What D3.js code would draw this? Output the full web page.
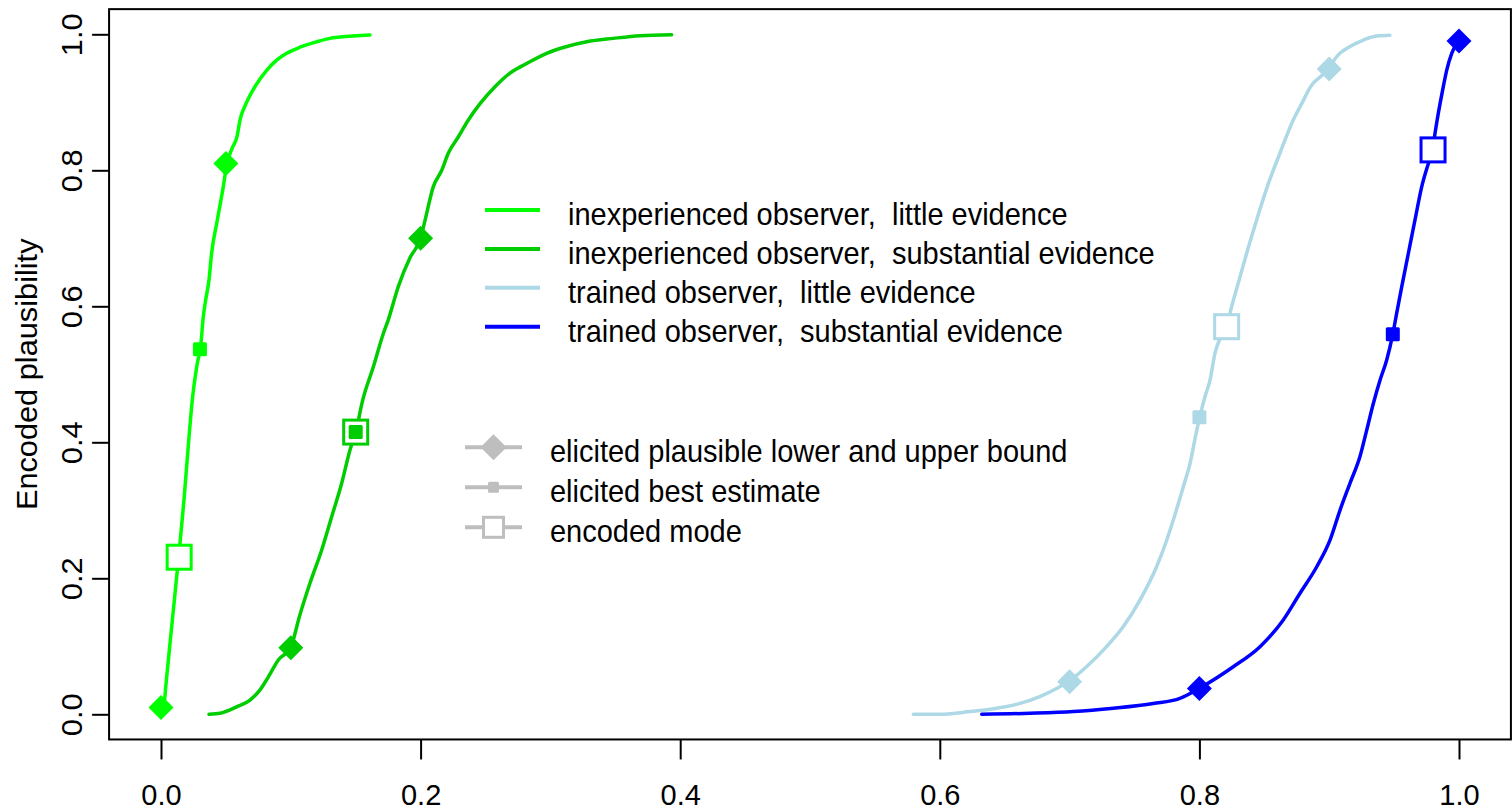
<!DOCTYPE html>
<html>
<head>
<meta charset="utf-8">
<script src="https://cdn.jsdelivr.net/npm/d3@7"></script>
<style>
  html, body { margin: 0; padding: 0; background: #ffffff; }
  svg { display: block; font-family: "Liberation Sans", Arial, Helvetica, sans-serif; }
  text { white-space: pre; }
</style>
</head>
<body>
<svg id="chart" width="1512" height="811"></svg>
<script>
// Encoded plausibility curves (cumulative) for four observer / evidence conditions.

// inexperienced observer, little evidence
const inexpLittleX = [0.000, 0.002, 0.0039, 0.0077, 0.0103, 0.0146, 0.0177, 0.0218, 0.0241, 0.0275, 0.0308, 0.0326, 0.0344, 0.037, 0.039, 0.0434, 0.048, 0.0506, 0.0547, 0.0586, 0.0609, 0.0655, 0.0724, 0.0814, 0.0891, 0.0968, 0.107, 0.120, 0.130, 0.138, 0.161];
const inexpLittleY = [0.000, 0.009, 0.045, 0.119, 0.168, 0.251, 0.315, 0.413, 0.462, 0.511, 0.546, 0.585, 0.609, 0.639, 0.678, 0.727, 0.776, 0.808, 0.832, 0.850, 0.874, 0.898, 0.923, 0.947, 0.962, 0.972, 0.981, 0.989, 0.994, 0.996, 0.999];

// inexperienced observer, substantial evidence
const inexpSubstX = [0.037, 0.0455, 0.0583, 0.0686, 0.0763, 0.0827, 0.0904, 0.0999, 0.1066, 0.1148, 0.1238, 0.1315, 0.1392, 0.1456, 0.150, 0.1554, 0.1636, 0.1713, 0.1751, 0.1828, 0.192, 0.200, 0.2035, 0.2098, 0.2163, 0.2213, 0.229, 0.2368, 0.2458, 0.2573, 0.2689, 0.2817, 0.2971, 0.3126, 0.328, 0.3485, 0.369, 0.3934];
const inexpSubstY = [0.000, 0.0015, 0.011, 0.021, 0.036, 0.055, 0.080, 0.098, 0.1435, 0.193, 0.2416, 0.2906, 0.3397, 0.3887, 0.415, 0.462, 0.511, 0.560, 0.580, 0.629, 0.672, 0.700, 0.727, 0.776, 0.800, 0.825, 0.849, 0.874, 0.898, 0.923, 0.943, 0.957, 0.972, 0.982, 0.989, 0.994, 0.998, 0.9995];

// trained observer, little evidence
const trainedLittleX = [0.5796, 0.601, 0.6233, 0.6438, 0.6618, 0.677, 0.690, 0.699, 0.713, 0.7285, 0.7414, 0.7542, 0.767, 0.7748, 0.7799, 0.7876, 0.7928, 0.798, 0.8043, 0.8082, 0.812, 0.8164, 0.8213, 0.8236, 0.8292, 0.8364, 0.8441, 0.8523, 0.862, 0.8723, 0.8788, 0.8857, 0.8993, 0.9057, 0.916, 0.9263, 0.9365, 0.9468];
const trainedLittleY = [0.000, 0.000, 0.004, 0.009, 0.016, 0.026, 0.038, 0.048, 0.070, 0.0995, 0.129, 0.168, 0.217, 0.256, 0.2857, 0.3347, 0.369, 0.418, 0.467, 0.4916, 0.531, 0.555, 0.570, 0.590, 0.629, 0.678, 0.727, 0.776, 0.825, 0.874, 0.898, 0.923, 0.9485, 0.967, 0.982, 0.9916, 0.9975, 0.9985];

// trained observer, substantial evidence
const trainedSubstX = [0.6323, 0.6695, 0.7029, 0.7337, 0.7645, 0.785, 0.7997, 0.8261, 0.8467, 0.8646, 0.8775, 0.8904, 0.9006, 0.9083, 0.916, 0.9237, 0.9289, 0.934, 0.9392, 0.9443, 0.949, 0.952, 0.9559, 0.961, 0.9661, 0.9713, 0.9764, 0.9797, 0.9815, 0.9854, 0.9879, 0.9905, 0.9944, 0.9995];
const trainedSubstY = [0.000, 0.0015, 0.004, 0.009, 0.016, 0.0235, 0.038, 0.070, 0.0995, 0.1387, 0.178, 0.217, 0.256, 0.300, 0.3397, 0.379, 0.418, 0.457, 0.4916, 0.521, 0.559, 0.590, 0.629, 0.678, 0.727, 0.776, 0.810, 0.830, 0.854, 0.898, 0.923, 0.947, 0.972, 0.990];

// elicited plausible lower / upper bounds: [lowerX, lowerY, upperX, upperY]
const boundsInexpLittle   = [0.00, 0.010, 0.05, 0.810];
const boundsInexpSubst    = [0.10, 0.098, 0.20, 0.700];
const boundsTrainedLittle = [0.70, 0.048, 0.90, 0.949];
const boundsTrainedSubst  = [0.80, 0.038, 1.00, 0.990];

// elicited best estimate [x, y]
const bestInexpLittle   = [0.030, 0.537];
const bestInexpSubst    = [0.150, 0.415];
const bestTrainedLittle = [0.800, 0.437];
const bestTrainedSubst  = [0.949, 0.559];

// encoded mode [x, y]
const modeInexpLittle   = [0.014, 0.231];
const modeInexpSubst    = [0.150, 0.415];
const modeTrainedLittle = [0.821, 0.570];
const modeTrainedSubst  = [0.980, 0.830];

const seriesNames = [
  "inexperienced observer,  little evidence",
  "inexperienced observer,  substantial evidence",
  "trained observer,  little evidence",
  "trained observer,  substantial evidence"
];
const seriesColors = ["#00ff00", "#00cd00", "#add8e6", "#0000ff"];
const markerNames = [
  "elicited plausible lower and upper bound",
  "elicited best estimate",
  "encoded mode"
];
const xTicks = [0, 0.2, 0.4, 0.6, 0.8, 1.0];
const yTicks = [0, 0.2, 0.4, 0.6, 0.8, 1.0];
const yTitle = "Encoded plausibility";

const series = [
  { xs: inexpLittleX,   ys: inexpLittleY,   bounds: boundsInexpLittle,   best: bestInexpLittle,   mode: modeInexpLittle },
  { xs: inexpSubstX,    ys: inexpSubstY,    bounds: boundsInexpSubst,    best: bestInexpSubst,    mode: modeInexpSubst },
  { xs: trainedLittleX, ys: trainedLittleY, bounds: boundsTrainedLittle, best: bestTrainedLittle, mode: modeTrainedLittle },
  { xs: trainedSubstX,  ys: trainedSubstY,  bounds: boundsTrainedSubst,  best: bestTrainedSubst,  mode: modeTrainedSubst }
].map((s, i) => Object.assign(s, { name: seriesNames[i], color: seriesColors[i] }));

const svg = d3.select("#chart");
const FONT = 29;

const x = d3.scaleLinear().domain([0, 1]).range([161, 1459]);
const y = d3.scaleLinear().domain([0, 1]).range([714.3, 34.3]);

// plot frame
const fx0 = x(-0.04), fx1 = x(1.04), fy0 = y(-0.037), fy1 = y(1.037);
svg.append("rect")
  .attr("x", fx0).attr("y", fy1)
  .attr("width", fx1 - fx0).attr("height", fy0 - fy1)
  .attr("fill", "none").attr("stroke", "#000").attr("stroke-width", 2);

// x axis
const gx = svg.append("g")
  .attr("transform", `translate(0,${fy0})`)
  .call(d3.axisBottom(x).tickValues(xTicks).tickFormat(d3.format(".1f")).tickSize(20).tickPadding(25));
gx.select(".domain").remove();
gx.selectAll(".tick line").attr("stroke", "#000").attr("stroke-width", 2);
gx.selectAll(".tick text").attr("font-size", FONT).attr("fill", "#000")
  .attr("font-family", "Liberation Sans, Arial, sans-serif");

// y axis (labels parallel to the axis)
const gy = svg.append("g")
  .attr("transform", `translate(${fx0},0)`)
  .call(d3.axisLeft(y).tickValues(yTicks).tickFormat(d3.format(".1f")).tickSize(17));
gy.select(".domain").remove();
gy.selectAll(".tick line").attr("stroke", "#000").attr("stroke-width", 2);
gy.selectAll(".tick text")
  .attr("x", null).attr("dy", null)
  .attr("text-anchor", "middle")
  .attr("transform", `translate(${82 - fx0},0) rotate(-90) scale(1.06,1)`)
  .attr("font-size", FONT).attr("fill", "#000")
  .attr("font-family", "Liberation Sans, Arial, sans-serif");

// y axis title
svg.append("text")
  .attr("transform", `translate(37,${(fy0 + fy1) / 2}) rotate(-90) scale(1.06,1)`)
  .attr("text-anchor", "middle")
  .attr("font-size", FONT)
  .attr("fill", "#000")
  .text(yTitle);

// curves
const line = d3.line().curve(d3.curveMonotoneX).x(d => x(d[0])).y(d => y(d[1]));
svg.append("g").selectAll("path")
  .data(series)
  .join("path")
  .attr("d", s => line(d3.zip(s.xs, s.ys)))
  .attr("fill", "none")
  .attr("stroke", s => s.color)
  .attr("stroke-width", 3.5)
  .attr("stroke-linejoin", "round")
  .attr("stroke-linecap", "round");

// marker shapes
const diamond = (g, cx, cy, r, color) =>
  g.append("path")
    .attr("d", `M${cx},${cy - r}L${cx + r},${cy}L${cx},${cy + r}L${cx - r},${cy}Z`)
    .attr("fill", color);
const smallSquare = (g, cx, cy, s, color) =>
  g.append("rect")
    .attr("x", cx - s / 2).attr("y", cy - s / 2)
    .attr("width", s).attr("height", s).attr("rx", 1.5)
    .attr("fill", color);
const openSquare = (g, cx, cy, s, color) =>
  g.append("rect")
    .attr("x", cx - s / 2).attr("y", cy - s / 2)
    .attr("width", s).attr("height", s)
    .attr("fill", "#fff").attr("stroke", color).attr("stroke-width", 3);

const gm = svg.append("g");
series.forEach(s => {
  const b = s.bounds;
  openSquare(gm, x(s.mode[0]), y(s.mode[1]), 24, s.color);
  smallSquare(gm, x(s.best[0]), y(s.best[1]), 14, s.color);
  diamond(gm, x(b[0]), y(b[1]), 12.5, s.color);
  diamond(gm, x(b[2]), y(b[3]), 12.5, s.color);
});

// legend: series
const leg1 = svg.append("g");
series.forEach((s, i) => {
  const ly = 210 + i * 38.9;
  leg1.append("line")
    .attr("x1", 485).attr("x2", 540).attr("y1", ly).attr("y2", ly)
    .attr("stroke", s.color).attr("stroke-width", 4);
  leg1.append("text")
    .attr("transform", `translate(568,${ly + 15}) scale(1,1.06)`)
    .attr("font-size", FONT).attr("fill", "#000")
    .text(s.name);
});

// legend: marker meaning
const grey = "#bebebe";
const leg2 = svg.append("g");
markerNames.forEach((name, i) => {
  const ly = 447.3 + i * 40;
  const cx = 493.5;
  leg2.append("line")
    .attr("x1", 465).attr("x2", 522).attr("y1", ly).attr("y2", ly)
    .attr("stroke", grey).attr("stroke-width", 4);
  if (i === 0) diamond(leg2, cx, ly, 13, grey);
  if (i === 1) smallSquare(leg2, cx, ly, 11, grey);
  if (i === 2) openSquare(leg2, cx, ly, 20, grey);
  leg2.append("text")
    .attr("transform", `translate(550,${ly + 15}) scale(1,1.06)`)
    .attr("font-size", FONT).attr("fill", "#000")
    .text(name);
});
</script>
</body>
</html>
